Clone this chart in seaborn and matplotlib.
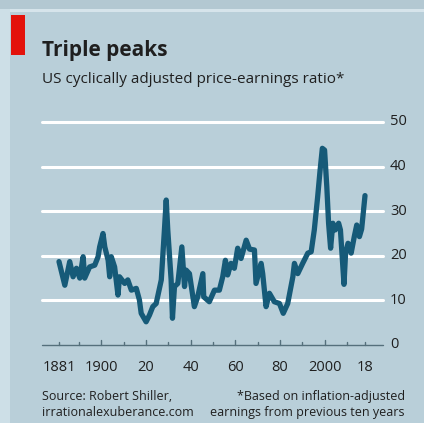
import numpy as np
import pandas as pd
import matplotlib
matplotlib.use("Agg")
import matplotlib.pyplot as plt
import seaborn as sns
from matplotlib.patches import Rectangle

# ---- data ----
years = [1881.0, 1883.6, 1885.8, 1887.3, 1888.8, 1890.3, 1891.8, 1892.5, 1894.7, 1897.0,
         1898.5, 1899.2, 1900.7, 1901.5, 1903.0, 1903.7, 1904.4, 1905.9, 1907.4, 1908.1,
         1910.4, 1911.8, 1913.4, 1915.6, 1917.0, 1917.8, 1920.0, 1921.5, 1923.0, 1924.5,
         1926.8, 1928.2, 1929.0, 1929.7, 1931.2, 1931.8, 1932.7, 1934.2, 1936.0, 1937.2,
         1937.9, 1939.4, 1941.6, 1943.1, 1945.4, 1945.8, 1948.3, 1950.6, 1952.8, 1954.3,
         1955.5, 1956.5, 1958.0, 1959.5, 1961.0, 1962.5, 1964.8, 1966.3, 1968.5, 1969.2,
         1971.5, 1972.2, 1973.7, 1975.2, 1977.4, 1979.7, 1981.4, 1983.4, 1985.7, 1986.4,
         1987.9, 1990.1, 1992.4, 1993.9, 1995.3, 1996.8, 1997.9, 1998.9, 1999.9, 2000.9,
         2001.7, 2002.6, 2003.6, 2004.7, 2006.2, 2007.0, 2008.6, 2009.3, 2010.4, 2011.8,
         2013.2, 2014.3, 2015.5, 2016.5, 2018.0]
cape = [18.7, 13.4, 18.7, 15.3, 17.2, 15.0, 19.8, 15.0, 17.5, 17.9,
        19.8, 22.0, 25.0, 22.0, 19.0, 15.3, 19.8, 17.5, 11.2, 15.3,
        13.8, 14.6, 12.3, 12.7, 10.1, 7.1, 5.2, 6.7, 8.6, 9.3,
        14.6, 25.8, 32.5, 25.8, 14.6, 6.0, 13.1, 13.8, 22.0, 13.1,
        16.8, 16.0, 8.6, 10.8, 16.0, 10.8, 9.7, 12.3, 12.3, 15.3,
        19.0, 15.7, 18.3, 17.2, 21.7, 19.4, 23.5, 21.5, 21.3, 13.8,
        18.3, 16.0, 8.6, 11.6, 9.7, 9.3, 7.1, 9.3, 15.3, 18.3,
        16.0, 18.3, 20.6, 20.9, 25.8, 33.2, 39.2, 44.1, 43.7, 35.5,
        27.3, 21.7, 27.3, 25.8, 27.3, 25.8, 13.6, 20.6, 22.8, 20.6,
        24.3, 26.9, 24.3, 26.0, 33.5]
tick_years = [1881, 1900, 1920, 1940, 1960, 1980, 2000, 2018]
tick_labels = ["1881", "1900", "20", "40", "60", "80", "2000", "18"]
minor_years = [1881, 1890, 1910, 1930, 1950, 1970, 1990, 2010, 2018]
major_years = [1900, 1920, 1940, 1960, 1980, 2000]
y_ticks = [0, 10, 20, 30, 40, 50]

df = pd.DataFrame({"year": years, "cape": cape})

W, H = 424, 423
BG = "#b9cfd9"
LINE = "#165a78"
TXT = "#1f1f1f"

sns.set_theme(style="white")
plt.rcParams["font.family"] = ["Open Sans", "DejaVu Sans"]

fig = plt.figure(figsize=(W / 100, H / 100), dpi=100)
fig.patch.set_facecolor(BG)

# decorations: top strip, left strip, red tag
fig.add_artist(Rectangle((0, 1 - 9 / H), 1, 9 / H, transform=fig.transFigure,
                         facecolor="#b3c8d2", edgecolor="none"))
fig.add_artist(Rectangle((0, 1 - 12 / H), 1, 3 / H, transform=fig.transFigure,
                         facecolor="#d6e4eb", edgecolor="none"))
fig.add_artist(Rectangle((0, 0), 10 / W, 1 - 9 / H, transform=fig.transFigure,
                         facecolor="#cddfe7", edgecolor="none"))
fig.add_artist(Rectangle((11 / W, 1 - 55 / H), 14 / W, 40 / H, transform=fig.transFigure,
                         facecolor="#e3120b", edgecolor="none"))

fig.text(42 / W, 1 - 56 / H, "Triple peaks", fontsize=15, fontweight="bold",
         color=TXT, ha="left", va="baseline")
fig.text(42 / W, 1 - 83 / H, "US cyclically adjusted price-earnings ratio*", fontsize=11,
         color=TXT, ha="left", va="baseline")

# axes
x_left, x_right = 42, 383
y_top, y_bot = 122, 345
ax = fig.add_axes([x_left / W, 1 - y_bot / H, (x_right - x_left) / W, (y_bot - y_top) / H])
ax.set_facecolor("none")
px_per_year = (365 - 59) / (2018 - 1881)
ax.set_xlim(1881 - (59 - x_left) / px_per_year, 2018 + (x_right - 365) / px_per_year)
ax.set_ylim(0, 50)

for v in y_ticks[1:]:
    ax.axhline(v, color="white", lw=2.2, zorder=1, clip_on=False)
ax.axhline(0, color="#55707c", lw=1.0, zorder=2, clip_on=False)

sns.lineplot(data=df, x="year", y="cape", ax=ax, color=LINE, lw=3.8, zorder=3,
             solid_joinstyle="round")

for s in ax.spines.values():
    s.set_visible(False)
ax.set_xlabel("")
ax.set_ylabel("")
ax.tick_params(left=False, bottom=False, labelleft=False, labelbottom=False)

# x ticks (pointing up from the axis)
for yr in minor_years:
    ax.plot([yr, yr], [0, 0.7], color="#55707c", lw=1.0, clip_on=False, zorder=2)
for yr in major_years:
    ax.plot([yr, yr], [0, 1.2], color="#55707c", lw=1.0, clip_on=False, zorder=2)
for yr, lab in zip(tick_years, tick_labels):
    ax.text(yr, -3.4, lab, fontsize=10.5, color=TXT, ha="center", va="top")

# y labels on the right
for v in y_ticks:
    ax.text(2018 + (390 - 365) / px_per_year, v, str(v), fontsize=10.5, color=TXT,
            ha="left", va="center")

fig.text(42 / W, 1 - 400 / H, "Source: Robert Shiller,", fontsize=9, color=TXT,
         ha="left", va="baseline")
fig.text(42 / W, 1 - 416 / H, "irrationalexuberance.com", fontsize=9, color=TXT,
         ha="left", va="baseline")
fig.text(405 / W, 1 - 400 / H, "*Based on inflation-adjusted", fontsize=9, color=TXT,
         ha="right", va="baseline")
fig.text(405 / W, 1 - 416 / H, "earnings from previous ten years", fontsize=9, color=TXT,
         ha="right", va="baseline")

fig.savefig("out.png", dpi=100, facecolor=BG)
